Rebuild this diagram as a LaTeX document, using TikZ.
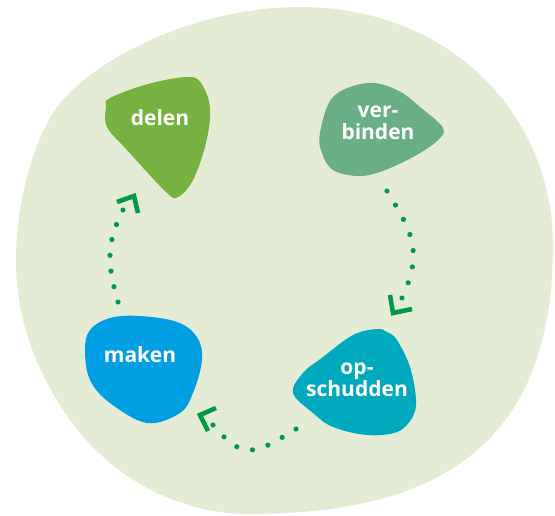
\documentclass[tikz,border=0pt]{standalone}
\usepackage{fontspec}
\setmainfont{Open Sans}
\usetikzlibrary{decorations.markings}
\definecolor{bgblob}{HTML}{E4ECD6}
\definecolor{delenc}{HTML}{76B241}
\definecolor{verbc}{HTML}{6AAE86}
\definecolor{makenc}{HTML}{009FE3}
\definecolor{opsc}{HTML}{00AABE}
\definecolor{arrowc}{HTML}{009A44}
\begin{document}
\begin{tikzpicture}[x=1pt,y=-1pt,
  lbl/.style={text=white, font=\bfseries\fontsize{21}{22.5}\selectfont, align=center, inner sep=0pt},
  dotpath/.style={decoration={markings, mark=between positions 0 and 1 step #1 with {\fill[arrowc] (0,0) circle (2.6pt);}}, decorate},
  chev/.style={draw=arrowc, line width=4.6pt, line cap=butt, line join=miter}]
\useasboundingbox (0,0) rectangle (555,515);
% background
\fill[bgblob] (300,7) .. controls (450,7) and (553,115) .. (553,245)
  .. controls (553,435) and (450,514) .. (250,514)
  .. controls (170,514) and (100,470) .. (60,405)
  .. controls (25,350) and (16,300) .. (16,260)
  .. controls (16,200) and (35,135) .. (60,103)
  .. controls (100,55) and (200,7) .. cycle;
% delen
\fill[delenc] plot[smooth cycle, tension=0.6] coordinates {(110,98) (148,84) (187,77) (201,83) (210,108) (206,143) (193,180) (178,197) (166,192) (127,150) (107,127) (106,107)};
\node[lbl] (delen) at (160,118) {delen};
% verbinden
\fill[verbc] plot[smooth cycle, tension=0.6] coordinates {(320,133) (333,97) (367,83) (397,90) (420,107) (443,128) (437,141) (413,157) (380,172) (357,176) (333,170) (322,153)};
\node[lbl] (verb) at (378,123) {ver-\\binden};
% maken
\fill[makenc] plot[smooth cycle, tension=0.6] coordinates {(90,330) (110,318) (140,316) (177,322) (197,337) (202,360) (193,393) (180,413) (147,423) (110,403) (90,380) (85,350)};
\node[lbl] (maken) at (140,355) {maken};
% opschudden
\fill[opsc] plot[smooth cycle, tension=0.6] coordinates {(293,393) (303,373) (323,357) (353,335) (377,329) (387,332) (397,340) (410,367) (416,400) (412,418) (397,432) (367,435) (333,427) (313,413)};
\node[lbl] (ops) at (357,380) {op-\\schudden};
% connector endpoints
\coordinate (s1) at (387,191); \coordinate (e1) at (402,298); \coordinate (t1) at (393,313);
\coordinate (s2) at (296,429); \coordinate (e2) at (213,425); \coordinate (t2) at (200,415);
\coordinate (s3) at (118,302); \coordinate (e3) at (123,210); \coordinate (t3) at (134,196);
% verbinden -> opschudden
\path[dotpath=0.14285] (s1) .. controls (413,233) and (423,252) .. (e1);
\draw[chev] (390,295) -- (t1) -- (412,309);
% opschudden -> maken
\path[dotpath=0.16666] (s2) .. controls (255.6,453.7) and (243.9,461.6) .. (e2);
\draw[chev] (216,408) -- (t2) -- (208,431);
% maken -> delen
\path[dotpath=0.16666] (s3) .. controls (107.5,264.6) and (105.5,244.7) .. (e3);
\draw[chev] (117,202) -- (t3) -- (138,213);
\end{tikzpicture}
\end{document}
